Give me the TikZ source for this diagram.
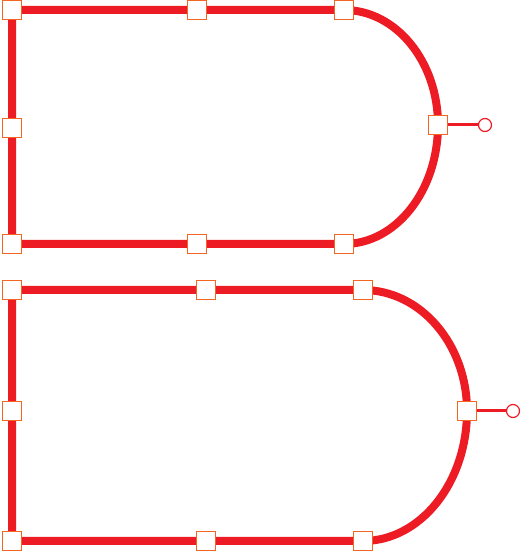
\documentclass[tikz,border=0pt]{standalone}
\usepackage{tikz}
\usetikzlibrary{backgrounds, positioning}

\definecolor{trackred}{RGB}{237,28,36}
\definecolor{handleorange}{RGB}{242,101,34}

\begin{document}
\begin{tikzpicture}[
    x=1pt, y=1pt,
    handle/.style={rectangle, minimum size=19.5pt, inner sep=0pt, draw=handleorange, line width=1.2pt, fill=white},
    knob/.style={circle, minimum size=13pt, inner sep=0pt, draw=trackred, line width=1.2pt, fill=white},
    track/.style={draw=trackred, line width=8pt},
    stem/.style={draw=trackred, line width=3pt},
]
    \useasboundingbox (0,0) rectangle (520,551);

    % Upper shape
    \node (a_tl) [handle] at (12,541) {};
    \node (a_tm) [handle] at (197,541) {};
    \node (a_tr) [handle] at (344,541) {};
    \node (a_lm) [handle] at (12,423) {};
    \node (a_rm) [handle] at (438,426) {};
    \node (a_bl) [handle] at (12,307) {};
    \node (a_bm) [handle] at (197,307) {};
    \node (a_br) [handle] at (344,307) {};
    \node (a_knob) [knob] at (485,426) {};

    % Lower shape
    \node (b_tl) [handle] at (12,261) {};
    \node (b_tm) [handle] at (206,261) {};
    \node (b_tr) [handle] at (363,261) {};
    \node (b_lm) [handle] at (12,140) {};
    \node (b_rm) [handle] at (467,140) {};
    \node (b_bl) [handle] at (12,10) {};
    \node (b_bm) [handle] at (206,10) {};
    \node (b_br) [handle] at (363,10) {};
    \node (b_knob) [knob] at (513,140) {};

    % Outlines
    \begin{scope}[on background layer]
        \draw [track, line join=round] (a_br.center) -- (a_bm.center) -- (a_bl.center) -- (a_lm.center) -- (a_tl.center) -- (a_tm.center) -- (a_tr.center)
            arc[start angle=90, end angle=0, x radius=94, y radius=115]
            arc[start angle=0, end angle=-90, x radius=94, y radius=119];
        \draw [track, line join=round] (b_br.center) -- (b_bm.center) -- (b_bl.center) -- (b_lm.center) -- (b_tl.center) -- (b_tm.center) -- (b_tr.center)
            arc[start angle=90, end angle=0, x radius=104, y radius=121]
            arc[start angle=0, end angle=-90, x radius=104, y radius=130];
    \end{scope}

    % Handles
    \draw [stem] (a_rm) -- (a_knob);
    \draw [stem] (b_rm) -- (b_knob);

\end{tikzpicture}
\end{document}
